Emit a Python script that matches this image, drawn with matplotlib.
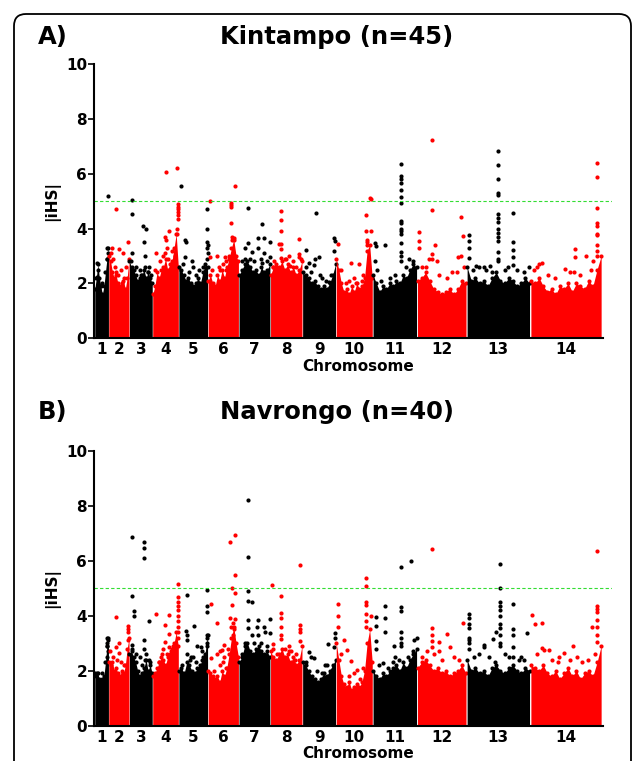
import numpy as np
import matplotlib
matplotlib.use('Agg')
import matplotlib.pyplot as plt
from matplotlib.patches import FancyBboxPatch
from matplotlib.transforms import IdentityTransform

plt.rcParams['font.family'] = 'DejaVu Sans'
plt.rcParams['font.weight'] = 'bold'

# P. falciparum chromosome lengths (Mb)
chrom_len = [0.640, 0.947, 1.068, 1.200, 1.344, 1.418, 1.446, 1.473,
             1.542, 1.688, 2.039, 2.272, 2.925, 3.292]
chrom_names = [str(i) for i in range(1, 15)]

# upper edge of the dense |iHS| mass, evenly spread along each chromosome
kin_env = [
    [1.8, 2.2, 2.7, 2.2, 1.9, 1.6, 1.9, 2.4, 2.9, 3.3],
    [3.0, 2.8, 2.4, 2.2, 2.3, 2.0, 1.9, 2.0, 2.1, 1.8, 2.2, 2.9],
    [2.8, 2.6, 2.5, 2.3, 2.1, 2.2, 2.3, 2.5, 2.2, 2.4, 2.2, 2.0],
    [1.6, 1.9, 2.4, 2.2, 2.5, 2.6, 2.9, 2.5, 2.7, 2.8, 3.3, 3.8, 2.6],
    [2.6, 2.5, 2.3, 2.1, 2.2, 2.0, 1.9, 2.0, 2.2, 2.0, 2.4, 2.7, 2.6],
    [2.1, 2.3, 2.0, 1.9, 2.3, 2.1, 2.5, 2.2, 2.6, 2.9, 3.3, 3.6, 3.0, 2.8],
    [2.3, 2.5, 2.7, 2.8, 2.6, 2.4, 2.5, 2.3, 2.6, 2.4, 2.5, 2.7],
    [2.3, 2.6, 2.7, 2.6, 2.8, 2.5, 2.7, 2.4, 2.6, 2.3, 2.5, 2.8],
    [2.4, 2.3, 2.2, 2.0, 2.1, 1.9, 1.8, 1.9, 1.8, 2.0, 2.3, 2.7],
    [2.9, 2.5, 2.0, 1.7, 1.8, 1.6, 1.9, 1.7, 2.0, 1.8, 1.9, 2.2, 3.2, 3.4, 2.2],
    [2.3, 2.0, 1.7, 1.9, 1.8, 2.0, 1.9, 2.1, 2.0, 2.3, 2.2, 2.5, 2.7, 2.6],
    [2.1, 2.2, 2.4, 2.1, 1.8, 1.7, 1.6, 1.7, 1.8, 1.6, 1.8, 2.1, 2.0],
    [2.6, 2.1, 2.2, 2.0, 2.1, 1.9, 2.2, 2.4, 2.1, 2.0, 2.2, 2.1, 1.9, 2.0, 2.2, 2.0],
    [2.1, 2.0, 2.2, 1.9, 1.7, 1.8, 1.6, 1.9, 1.8, 2.0, 1.7, 2.0, 1.9, 1.8, 2.1, 1.9, 2.5, 3.0],
]
nav_env = [
    [1.9, 1.8, 1.9, 1.7, 1.6, 1.7, 1.8, 2.3, 2.9, 3.2],
    [2.3, 2.2, 2.3, 2.0, 2.1, 1.9, 1.8, 2.0, 1.9, 2.2, 2.8, 3.2],
    [2.6, 2.7, 2.5, 2.3, 2.0, 1.8, 1.9, 2.1, 2.4, 2.0, 2.2, 1.9],
    [1.8, 1.9, 2.1, 2.3, 2.5, 2.4, 2.2, 2.5, 2.6, 2.8, 3.0, 3.4, 2.9],
    [2.0, 2.1, 1.9, 2.3, 2.2, 2.0, 1.9, 2.1, 2.2, 2.4, 2.6, 3.3],
    [2.0, 1.9, 1.8, 1.7, 1.8, 1.6, 2.0, 1.8, 2.1, 2.6, 3.2, 3.6, 3.0, 2.5],
    [2.3, 2.5, 2.9, 3.0, 2.7, 2.6, 2.8, 2.9, 2.7, 2.6, 2.7, 2.5],
    [2.7, 2.5, 2.4, 2.6, 2.8, 2.5, 2.6, 2.3, 2.5, 2.2, 2.4, 2.9],
    [2.3, 2.2, 2.0, 1.8, 1.7, 1.6, 1.7, 1.9, 1.8, 2.0, 2.2, 2.4],
    [3.0, 2.4, 1.8, 1.5, 1.4, 1.6, 1.3, 1.4, 1.5, 1.4, 1.6, 2.0, 3.0, 3.5, 2.3],
    [2.0, 1.8, 1.7, 1.9, 1.8, 2.0, 2.1, 2.2, 2.0, 2.3, 2.1, 2.4, 2.6, 2.8],
    [2.1, 2.3, 2.4, 2.2, 2.0, 2.1, 1.9, 2.0, 1.8, 1.9, 2.0, 2.2, 1.9],
    [2.4, 2.0, 2.1, 1.9, 2.0, 1.8, 2.1, 2.2, 2.0, 1.9, 2.1, 2.2, 2.0, 1.9, 2.1, 2.0],
    [2.2, 2.1, 2.0, 2.2, 1.9, 1.8, 2.0, 1.7, 1.9, 2.1, 1.8, 2.0, 1.7, 1.9, 2.0, 1.8, 2.3, 2.9],
]

# loose SNPs just above the mass: (fraction along chromosome, |iHS|)
kin_spread = [
    [(0.25, 2.5), (0.55, 2.0)],
    [(0.2, 2.9), (0.3, 2.6), (0.45, 2.3), (0.6, 2.5), (0.75, 2.2), (0.85, 2.6)],
    [(0.3, 2.6), (0.45, 2.5), (0.55, 2.2), (0.85, 2.6), (0.92, 2.3)],
    [(0.3, 2.8), (0.4, 3.0), (0.6, 2.9), (0.7, 2.7), (0.85, 3.0)],
    [(0.15, 2.7), (0.35, 2.4), (0.6, 2.3), (0.7, 2.5), (0.85, 2.6)],
    [(0.15, 2.5), (0.35, 2.6), (0.5, 2.7), (0.6, 2.5), (0.7, 3.0)],
    [(0.1, 2.8), (0.35, 2.9), (0.5, 2.8), (0.7, 2.9), (0.9, 2.8)],
    [(0.12, 2.8), (0.45, 2.9), (0.7, 2.8), (0.8, 2.6), (0.95, 2.9)],
    [(0.1, 2.6), (0.25, 2.4), (0.6, 2.2), (0.7, 2.1), (0.85, 2.3)],
    [(0.15, 2.5), (0.35, 2.1), (0.5, 2.2), (0.55, 2.0), (0.7, 2.1), (0.75, 2.3)],
    [(0.1, 2.5), (0.2, 2.1), (0.4, 2.2), (0.5, 2.3), (0.75, 2.6), (0.9, 2.8)],
    [(0.1, 2.6), (0.25, 2.9), (0.45, 2.3), (0.6, 2.2), (0.7, 2.4), (0.95, 2.6)],
    [(0.1, 2.5), (0.2, 2.6), (0.3, 2.5), (0.4, 2.4), (0.6, 2.5), (0.65, 2.6), (0.8, 2.5), (0.9, 2.4)],
    [(0.05, 2.5), (0.1, 2.6), (0.25, 2.3), (0.35, 2.2), (0.55, 2.4), (0.7, 2.3), (0.85, 2.5),
     (0.88, 2.8)],
]
nav_spread = [
    [(0.2, 1.9), (0.5, 1.9)],
    [(0.2, 2.5), (0.4, 2.4), (0.6, 2.3), (0.75, 2.2)],
    [(0.1, 2.8), (0.3, 2.6), (0.55, 2.2), (0.7, 2.4), (0.9, 2.3)],
    [(0.25, 2.3), (0.35, 2.6), (0.55, 2.6), (0.7, 2.7), (0.8, 2.9)],
    [(0.1, 2.2), (0.4, 2.4), (0.5, 2.5), (0.6, 2.3), (0.85, 2.5)],
    [(0.2, 2.0), (0.4, 2.2), (0.5, 2.3), (0.6, 2.1), (0.65, 2.8)],
    [(0.1, 2.6), (0.2, 3.0), (0.5, 3.0), (0.7, 3.0), (0.9, 2.9)],
    [(0.1, 2.8), (0.2, 2.6), (0.45, 2.8), (0.6, 2.7), (0.8, 2.6)],
    [(0.1, 2.3), (0.45, 2.0), (0.6, 1.9), (0.75, 2.2)],
    [(0.15, 2.6), (0.35, 1.8), (0.5, 1.9), (0.65, 1.7), (0.75, 2.1)],
    [(0.15, 2.2), (0.35, 2.1), (0.45, 2.3), (0.6, 2.4), (0.8, 2.5), (0.9, 2.7)],
    [(0.1, 2.5), (0.2, 2.7), (0.35, 2.6), (0.5, 2.4), (0.75, 2.5), (0.85, 2.4)],
    [(0.12, 2.5), (0.2, 2.6), (0.35, 2.5), (0.6, 2.6), (0.67, 2.5), (0.85, 2.5), (0.9, 2.4)],
    [(0.1, 2.6), (0.3, 2.4), (0.4, 2.5), (0.55, 2.4), (0.65, 2.5), (0.8, 2.4), (0.9, 2.6)],
]

# single high SNPs: (fraction along chromosome, |iHS|)
kin_peaks = [
    [(0.2, 2.75), (0.15, 2.25), (0.88, 3.3), (0.93, 3.1), (0.95, 5.2), (0.9, 2.9)],
    [(0.35, 4.72), (0.16, 3.3), (0.52, 3.25), (0.68, 3.1), (0.92, 3.5), (0.35, 2.4), (0.1, 3.1)],
    [(0.12, 5.05), (0.12, 4.53), (0.61, 4.1), (0.74, 4.0), (0.64, 3.5), (0.68, 3.0), (0.68, 2.6),
     (0.12, 3.1), (0.09, 2.8), (0.5, 2.3), (0.8, 2.4)],
    [(0.51, 6.07), (0.94, 6.2), (0.96, 4.9), (0.96, 4.8), (0.96, 4.7), (0.96, 4.6), (0.96, 4.5),
     (0.96, 4.35), (0.94, 4.0), (0.95, 3.8), (0.15, 3.1), (0.64, 3.9), (0.48, 3.7), (0.51, 3.6),
     (0.56, 3.3), (0.74, 3.2), (0.47, 3.1), (0.1, 2.5)],
    [(0.08, 5.55), (0.22, 3.6), (0.27, 3.5), (0.23, 2.95), (0.46, 2.8), (0.48, 2.6), (0.98, 4.7),
     (0.98, 4.0), (0.98, 3.5), (0.99, 3.4), (0.98, 3.3), (0.99, 3.1), (0.98, 2.9)],
    [(0.07, 5.0), (0.07, 2.95), (0.87, 5.57), (0.76, 4.95), (0.76, 4.85), (0.76, 4.78), (0.76, 4.2),
     (0.77, 3.7), (0.85, 3.65), (0.79, 3.6), (0.29, 3.0), (0.56, 2.95), (0.59, 2.8), (0.4, 2.5)],
    [(0.3, 4.75), (0.75, 4.15), (0.62, 3.67), (0.79, 3.65), (0.3, 3.46), (0.21, 3.28), (0.42, 3.16),
     (0.62, 3.3), (0.98, 3.52), (0.79, 3.1), (0.98, 2.95), (0.75, 2.75), (0.2, 2.9)],
    [(0.34, 4.64), (0.34, 4.3), (0.34, 3.9), (0.34, 3.44), (0.27, 3.44), (0.34, 3.24), (0.34, 2.92),
     (0.9, 3.61), (0.9, 3.06), (0.9, 2.95), (0.58, 3.0), (0.48, 2.9), (0.62, 2.65), (0.08, 2.6),
     (0.17, 2.6)],
    [(0.4, 4.55), (0.12, 3.22), (0.2, 2.76), (0.38, 2.89), (0.51, 2.95), (0.35, 2.67), (0.53, 2.31),
     (0.81, 2.07), (0.93, 3.67), (0.96, 3.55), (0.95, 3.2)],
    [(0.05, 3.45), (0.94, 5.13), (0.95, 5.08), (0.83, 4.5), (0.83, 3.92), (0.95, 3.9), (0.84, 3.6),
     (0.84, 3.5), (0.84, 3.4), (0.41, 2.73), (0.63, 2.7), (0.28, 2.0)],
    [(0.65, 6.37), (0.65, 5.93), (0.65, 5.81), (0.65, 5.67), (0.65, 5.4), (0.65, 5.16), (0.65, 4.92),
     (0.65, 4.29), (0.65, 4.2), (0.65, 4.0), (0.65, 3.9), (0.65, 3.8), (0.65, 3.49), (0.65, 3.16),
     (0.65, 3.0), (0.65, 2.8), (0.05, 3.46), (0.08, 3.35), (0.29, 3.4), (0.05, 2.8), (0.82, 2.9)],
    [(0.3, 7.24), (0.3, 4.68), (0.05, 3.86), (0.05, 3.55), (0.05, 3.3), (0.36, 3.4), (0.3, 3.06),
     (0.3, 2.9), (0.41, 2.8), (0.89, 4.43), (0.93, 3.72), (0.89, 3.0), (0.82, 2.95), (0.8, 2.4),
     (0.19, 2.6)],
    [(0.5, 6.84), (0.5, 6.32), (0.5, 5.81), (0.5, 5.31), (0.5, 5.22), (0.5, 4.53), (0.5, 4.37),
     (0.5, 4.25), (0.5, 4.0), (0.5, 3.85), (0.5, 3.7), (0.5, 3.55), (0.5, 3.16), (0.5, 2.9),
     (0.5, 2.8), (0.73, 4.56), (0.73, 3.52), (0.73, 3.22), (0.73, 2.95), (0.73, 2.67),
     (0.04, 3.77), (0.04, 3.55), (0.04, 3.3), (0.04, 2.92), (0.15, 2.65), (0.27, 2.6),
     (0.37, 2.65), (0.98, 2.59)],
    [(0.93, 6.4), (0.93, 5.87), (0.93, 4.76), (0.93, 4.19), (0.93, 4.1), (0.93, 3.8), (0.93, 3.75),
     (0.93, 3.4), (0.93, 3.2), (0.93, 3.0), (0.62, 3.26), (0.62, 2.98), (0.78, 3.01), (0.12, 2.7),
     (0.17, 2.75), (0.48, 2.52), (0.61, 2.4)],
]
nav_peaks = [
    [(0.92, 3.2), (0.93, 3.1), (0.9, 3.0), (0.92, 2.9), (0.95, 2.7), (0.9, 2.5)],
    [(0.37, 3.95), (0.52, 3.0), (0.37, 2.87), (0.08, 2.7), (0.52, 2.65), (0.92, 3.64), (0.92, 3.5),
     (0.92, 3.4), (0.92, 3.1)],
    [(0.13, 6.88), (0.13, 4.73), (0.19, 4.18), (0.19, 3.99), (0.65, 6.68), (0.65, 6.45), (0.65, 6.11),
     (0.84, 3.81), (0.65, 3.1), (0.14, 2.93), (0.65, 2.8), (0.74, 2.6), (0.45, 2.51), (0.84, 2.4)],
    [(0.15, 4.08), (0.63, 4.02), (0.49, 3.68), (0.63, 3.32), (0.49, 3.03), (0.63, 2.85), (0.96, 5.15),
     (0.96, 4.67), (0.96, 4.5), (0.96, 4.35), (0.96, 4.2), (0.96, 4.0), (0.96, 3.8), (0.96, 3.6),
     (0.96, 3.4), (0.96, 3.2), (0.41, 2.8)],
    [(0.29, 4.75), (0.25, 3.44), (0.29, 3.3), (0.29, 3.1), (0.54, 3.62), (0.63, 2.9), (0.29, 2.6),
     (0.43, 2.5), (0.77, 2.85), (0.79, 2.7), (0.98, 4.92), (0.98, 4.36), (0.98, 4.15), (0.98, 3.3),
     (0.98, 3.2), (0.98, 3.0), (0.98, 2.9)],
    [(0.1, 4.42), (0.1, 2.48), (0.31, 3.72), (0.31, 2.6), (0.39, 2.7), (0.46, 2.75), (0.53, 2.93),
     (0.53, 2.5), (0.73, 6.69), (0.87, 6.95), (0.87, 5.48), (0.77, 5.02), (0.87, 4.84), (0.77, 4.39),
     (0.72, 3.9), (0.87, 3.88), (0.8, 3.75), (0.75, 3.6), (0.85, 3.5), (0.8, 3.3)],
    [(0.3, 8.21), (0.3, 6.12), (0.3, 4.91), (0.28, 4.53), (0.42, 4.5), (0.3, 3.84), (0.3, 3.55),
     (0.42, 3.3), (0.62, 3.84), (0.58, 3.6), (0.62, 3.3), (0.79, 3.6), (0.82, 3.4), (0.98, 3.38),
     (0.98, 3.87)],
    [(0.06, 5.12), (0.34, 4.73), (0.34, 4.11), (0.34, 3.9), (0.34, 3.6), (0.34, 3.3), (0.34, 3.15),
     (0.92, 5.84), (0.92, 3.68), (0.92, 3.5), (0.92, 3.4), (0.92, 3.08), (0.58, 2.9), (0.66, 2.72),
     (0.76, 2.4), (0.08, 2.96)],
    [(0.2, 2.67), (0.27, 2.5), (0.34, 2.45), (0.68, 2.2), (0.96, 3.38), (0.78, 2.96), (0.96, 3.18),
     (0.95, 2.85)],
    [(0.05, 4.41), (0.05, 4.0), (0.05, 3.6), (0.21, 3.1), (0.3, 2.75), (0.41, 2.35), (0.57, 2.02),
     (0.83, 5.38), (0.83, 5.09), (0.83, 4.51), (0.83, 4.4), (0.83, 4.08), (0.83, 3.8), (0.83, 3.6),
     (0.96, 4.0)],
    [(0.65, 5.78), (0.86, 6.0), (0.65, 4.33), (0.65, 4.17), (0.65, 3.42), (0.65, 3.2), (0.65, 3.0),
     (0.65, 2.9), (0.29, 4.36), (0.29, 3.93), (0.29, 3.39), (0.07, 3.96), (0.07, 3.62), (0.07, 3.08),
     (0.07, 2.8), (0.23, 2.29), (0.49, 2.9), (0.5, 2.5), (0.99, 3.2), (0.94, 3.1)],
    [(0.3, 6.41), (0.3, 3.56), (0.3, 3.3), (0.3, 3.08), (0.3, 2.85), (0.44, 3.05), (0.44, 2.7),
     (0.61, 3.32), (0.66, 2.85), (0.93, 3.72)],
    [(0.52, 5.89), (0.52, 5.02), (0.52, 4.51), (0.52, 4.35), (0.52, 4.2), (0.52, 4.0), (0.52, 3.7),
     (0.52, 3.55), (0.52, 3.3), (0.52, 3.0), (0.52, 2.9), (0.04, 4.06), (0.04, 3.9), (0.04, 3.7),
     (0.04, 3.55), (0.04, 3.18), (0.04, 3.1), (0.04, 3.0), (0.04, 2.8), (0.28, 2.87), (0.28, 2.95),
     (0.42, 3.14), (0.46, 3.42), (0.73, 4.42), (0.73, 3.52), (0.73, 3.3), (0.73, 2.85), (0.73, 2.5),
     (0.95, 3.36), (0.82, 2.4), (0.44, 2.3)],
    [(0.93, 6.35), (0.93, 4.36), (0.93, 4.25), (0.93, 4.15), (0.93, 3.84), (0.93, 3.6), (0.93, 3.3),
     (0.93, 3.05), (0.86, 3.6), (0.02, 4.02), (0.07, 3.7), (0.17, 3.75), (0.16, 2.81), (0.19, 2.75),
     (0.26, 2.75), (0.6, 2.91), (0.47, 2.63), (0.73, 2.33), (0.39, 2.3)],
]

titles = ['Kintampo (n=45)', 'Navrongo (n=40)']
panel_tags = ['A)', 'B)']

starts = np.concatenate([[0], np.cumsum(chrom_len)[:-1]])
centers = starts + np.array(chrom_len) / 2


def manhattan(ax, env, spread, peaks):
    for i in range(14):
        col = 'black' if i % 2 == 0 else 'red'
        e = np.array(env[i])
        xs = starts[i] + chrom_len[i] * np.linspace(0.01, 0.99, len(e))
        ax.fill_between(xs, 0, e, color=col, lw=0)
        ax.scatter(xs, e, s=9, color=col, lw=0)
        for pts in (spread[i], peaks[i]):
            pk = np.array(pts)
            ax.scatter(starts[i] + chrom_len[i] * pk[:, 0], pk[:, 1], s=9, color=col, lw=0)
    ax.axhline(5, color='#33dd33', ls=(0, (3, 2)), lw=0.8)
    ax.set_xlim(-0.03, 23.76)
    ax.set_ylim(0, 10)
    ax.spines['top'].set_visible(False)
    ax.spines['right'].set_visible(False)
    ax.spines['left'].set_linewidth(1.5)
    ax.spines['bottom'].set_linewidth(1.5)
    ax.spines['bottom'].set_bounds(-0.03, 23.35)
    ax.set_yticks([0, 2, 4, 6, 8, 10])
    ax.tick_params(axis='y', length=4, width=1.2, labelsize=11, pad=1)
    ax.set_xticks(centers)
    ax.set_xticklabels(chrom_names)
    ax.tick_params(axis='x', length=0, labelsize=11, pad=3)
    ax.set_xlabel('Chromosome', fontsize=11, fontweight='bold', labelpad=0)
    ax.xaxis.set_label_coords(0.51, -0.075)
    ax.set_ylabel('|iHS|', fontsize=11, fontweight='bold', labelpad=4)


fig = plt.figure(figsize=(6.38, 7.61), dpi=100)
axA = fig.add_axes([94 / 638, 1 - 338.3 / 761, 518 / 638, 274.3 / 761])
axB = fig.add_axes([94 / 638, 1 - 725.7 / 761, 518 / 638, 275.0 / 761])

for ax, env, spread, peaks, title, tag, ty in [
        (axA, kin_env, kin_spread, kin_peaks, titles[0], panel_tags[0], 37),
        (axB, nav_env, nav_spread, nav_peaks, titles[1], panel_tags[1], 412)]:
    manhattan(ax, env, spread, peaks)
    fig.text(337 / 638, 1 - ty / 761, title, ha='center', va='center', fontsize=17.5, fontweight='bold')
    fig.text(38 / 638, 1 - ty / 761, tag, ha='left', va='center', fontsize=17.5, fontweight='bold')

border = FancyBboxPatch((14, -30), 617, 777, boxstyle='round,pad=0,rounding_size=12',
                        transform=IdentityTransform(), fill=False, lw=1.3, ec='black')
fig.patches.append(border)

plt.savefig('out.png', dpi=100)
